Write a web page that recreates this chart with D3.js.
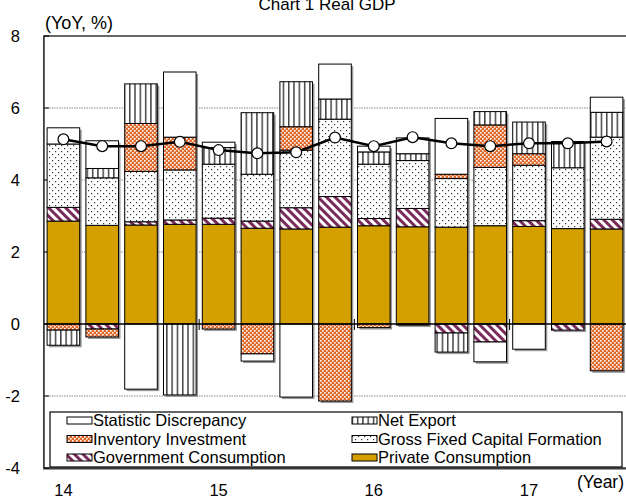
<!DOCTYPE html>
<html>
<head>
<meta charset="utf-8">
<script src="https://cdn.jsdelivr.net/npm/d3@7"></script>
<style>
  html, body { margin: 0; padding: 0; background: #fff; }
  svg { display: block; font-family: "Liberation Sans", Arial, sans-serif; }
</style>
</head>
<body>
<svg id="chart" width="626" height="499"></svg>
<script>
// ---- data ----
const categories = ["14Q1","14Q2","14Q3","14Q4","15Q1","15Q2","15Q3","15Q4","16Q1","16Q2","16Q3","16Q4","17Q1","17Q2","17Q3"];
const tickLabels = ["14","","","","15","","","","16","","","","17","",""];
const privateConsumption = [2.86, 2.74, 2.75, 2.77, 2.77, 2.66, 2.64, 2.69, 2.73, 2.70, 2.69, 2.73, 2.71, 2.65, 2.64];
const governmentConsumption = [0.38, -0.14, 0.09, 0.12, 0.17, 0.20, 0.59, 0.85, 0.20, 0.51, -0.25, -0.50, 0.16, -0.17, 0.27];
const grossFixedCapital = [1.76, 1.32, 1.40, 1.39, 1.50, 1.30, 1.60, 2.15, 1.51, 1.33, 1.35, 1.62, 1.54, 1.69, 2.28];
const inventoryInvestment = [-0.17, -0.22, 1.33, 0.91, -0.14, -0.83, 0.65, -2.14, -0.10, -0.03, 0.12, 1.18, 0.32, 0.00, -1.30];
const netExport = [-0.42, 0.26, 1.10, -1.97, 0.46, 1.71, 1.25, 0.56, 0.34, 0.19, -0.53, 0.37, 0.88, 0.73, 0.69];
const statDiscrepancy = [0.45, 0.77, -1.81, 1.81, 0.15, -0.20, -2.03, 0.97, 0.16, 0.44, 1.55, -0.55, -0.70, 0.00, 0.42];
const realGDP = [5.13, 4.94, 4.94, 5.06, 4.83, 4.74, 4.77, 5.18, 4.94, 5.19, 5.02, 4.94, 5.02, 5.02, 5.07];
const yTicks = [8, 6, 4, 2, 0, -2, -4];

const seriesKeys = ["private", "gov", "gfcf", "inv", "nx", "disc"];
const seriesNames = {
  disc: "Statistic Discrepancy", nx: "Net Export", inv: "Inventory Investment",
  gfcf: "Gross Fixed Capital Formation", gov: "Government Consumption", private: "Private Consumption"
};
const table = categories.map((c, i) => ({
  cat: c, private: privateConsumption[i], gov: governmentConsumption[i], gfcf: grossFixedCapital[i],
  inv: inventoryInvestment[i], nx: netExport[i], disc: statDiscrepancy[i], gdp: realGDP[i]
}));

// ---- layout ----
const svg = d3.select("#chart");
const pL = 44, pR = 626, pT = 36, pB = 468;
const x = d3.scaleBand().domain(categories).range([pL, pR]).paddingInner(0.16).paddingOuter(0.08);
const y = d3.scaleLinear().domain([-4, 8]).range([pB, pT]);

// patterns
const defs = svg.append("defs");
const pNx = defs.append("pattern").attr("id", "p-nx").attr("patternUnits", "userSpaceOnUse").attr("width", 5.3).attr("height", 10);
pNx.append("rect").attr("width", 5.3).attr("height", 10).attr("fill", "#fff");
pNx.append("rect").attr("x", 2).attr("width", 1.1).attr("height", 10).attr("fill", "#000");

const pInv = defs.append("pattern").attr("id", "p-inv").attr("patternUnits", "userSpaceOnUse").attr("width", 4).attr("height", 4);
pInv.append("rect").attr("width", 4).attr("height", 4).attr("fill", "#e0682a");
pInv.append("rect").attr("x", 0).attr("y", 0).attr("width", 1.6).attr("height", 1.6).attr("fill", "#fff");
pInv.append("rect").attr("x", 2).attr("y", 2).attr("width", 1.6).attr("height", 1.6).attr("fill", "#fff");

const pG = defs.append("pattern").attr("id", "p-gfcf").attr("patternUnits", "userSpaceOnUse").attr("width", 6).attr("height", 6);
pG.append("rect").attr("width", 6).attr("height", 6).attr("fill", "#fff");
pG.append("rect").attr("x", 1).attr("y", 1).attr("width", 1.2).attr("height", 1.2).attr("fill", "#333");
pG.append("rect").attr("x", 4).attr("y", 4).attr("width", 1.2).attr("height", 1.2).attr("fill", "#333");

const pGov = defs.append("pattern").attr("id", "p-gov").attr("patternUnits", "userSpaceOnUse").attr("width", 6).attr("height", 6).attr("patternTransform", "rotate(-45)");
pGov.append("rect").attr("width", 6).attr("height", 6).attr("fill", "#fff");
pGov.append("rect").attr("width", 3).attr("height", 6).attr("fill", "#7a2b5a");

const fills = { private: "#d4a000", gov: "url(#p-gov)", gfcf: "url(#p-gfcf)", inv: "url(#p-inv)", nx: "url(#p-nx)", disc: "#fff" };

// title
svg.append("text").attr("x", 327).attr("y", 10).attr("text-anchor", "middle").attr("font-size", 17).text("Chart 1 Real GDP");

// plot frame
svg.append("rect").attr("x", pL).attr("y", pT + 1).attr("width", pR - pL + 10).attr("height", pB - pT)
  .attr("fill", "none").attr("stroke", "#999").attr("stroke-width", 2);
svg.append("rect").attr("x", pL).attr("y", pT).attr("width", pR - pL + 10).attr("height", pB - pT)
  .attr("fill", "#fff").attr("stroke", "#000").attr("stroke-width", 1.2);

// gridlines
svg.append("g").selectAll("line").data(yTicks.filter(v => v !== 0 && v !== 8 && v !== -4)).join("line")
  .attr("x1", pL).attr("x2", pR).attr("y1", d => y(d)).attr("y2", d => y(d))
  .attr("stroke", "#888").attr("stroke-width", 1).attr("stroke-dasharray", "1.5,1");

// y ticks + labels
svg.append("g").selectAll("line").data(yTicks).join("line")
  .attr("x1", pL).attr("x2", pL + 5).attr("y1", d => y(d)).attr("y2", d => y(d)).attr("stroke", "#000");
svg.append("g").selectAll("text").data(yTicks).join("text")
  .attr("x", 20).attr("y", d => y(d) + 6).attr("text-anchor", "end").attr("font-size", 16.5).text(d => d);
svg.append("text").attr("x", 45).attr("y", 29).attr("font-size", 18).text("(YoY, %)");

// stacked bars
const stack = d3.stack().keys(seriesKeys).offset(d3.stackOffsetDiverging);
const stacked = stack(table);

// shadows
const ext = table.map((d, i) => {
  let lo = 0, hi = 0;
  stacked.forEach(s => { lo = Math.min(lo, s[i][0], s[i][1]); hi = Math.max(hi, s[i][0], s[i][1]); });
  return { cat: d.cat, lo, hi };
});
svg.append("g").selectAll("rect").data(ext).join("rect")
  .attr("x", d => x(d.cat) + 2).attr("width", x.bandwidth())
  .attr("y", d => y(d.hi) + 2).attr("height", d => y(d.lo) - y(d.hi))
  .attr("fill", "#9a9a9a");

const barG = svg.append("g");
stacked.forEach(s => {
  barG.append("g").selectAll("rect").data(s.filter(d => Math.abs(d[1] - d[0]) > 1e-9)).join("rect")
    .attr("x", d => x(d.data.cat)).attr("width", x.bandwidth())
    .attr("y", d => y(Math.max(d[0], d[1]))).attr("height", d => Math.abs(y(d[0]) - y(d[1])))
    .attr("fill", fills[s.key]).attr("stroke", "#000").attr("stroke-width", 1);
});

// zero line
svg.append("line").attr("x1", pL).attr("x2", pR).attr("y1", y(0)).attr("y2", y(0)).attr("stroke", "#000").attr("stroke-width", 1.5);
// year boundary ticks
const boundaries = categories.filter((c, i) => i > 0 && i % 4 === 0);
svg.append("g").selectAll("line").data(boundaries).join("line")
  .attr("x1", d => x(d) - x.step() * x.paddingInner() / 2).attr("x2", d => x(d) - x.step() * x.paddingInner() / 2)
  .attr("y1", y(0) - 5).attr("y2", y(0) + 6).attr("stroke", "#000").attr("stroke-width", 1);

// GDP line
const cx = d => x(d.cat) + x.bandwidth() / 2;
svg.append("path").datum(table)
  .attr("d", d3.line().x(cx).y(d => y(d.gdp)))
  .attr("fill", "none").attr("stroke", "#000").attr("stroke-width", 2.5);
svg.append("g").selectAll("circle").data(table).join("circle")
  .attr("cx", cx).attr("cy", d => y(d.gdp)).attr("r", 5.4)
  .attr("fill", "#fff").attr("stroke", "#000").attr("stroke-width", 1.2);

// legend
const lg = svg.append("g");
lg.append("rect").attr("x", 50).attr("y", 412).attr("width", 572).attr("height", 55).attr("fill", "#fff").attr("stroke", "#000").attr("stroke-width", 1.2);
const legendItems = [
  { key: "disc", col: 0, row: 0 }, { key: "nx", col: 1, row: 0 },
  { key: "inv", col: 0, row: 1 }, { key: "gfcf", col: 1, row: 1 },
  { key: "gov", col: 0, row: 2 }, { key: "private", col: 1, row: 2 }
];
const colX = [67, 352];
legendItems.forEach(it => {
  const bx = colX[it.col], by = 426 + it.row * 18.5;
  lg.append("rect").attr("x", bx).attr("y", by - 9).attr("width", 25).attr("height", 7)
    .attr("fill", fills[it.key]).attr("stroke", "#000").attr("stroke-width", 1);
  lg.append("text").attr("x", bx + 26).attr("y", by).attr("font-size", 16.5).text(seriesNames[it.key]);
});

// x labels
svg.append("g").selectAll("text").data(categories).join("text")
  .attr("x", d => x(d) + x.bandwidth() / 2).attr("y", 496).attr("text-anchor", "middle").attr("font-size", 16.5)
  .text((d, i) => tickLabels[i]);
svg.append("text").attr("x", 577).attr("y", 488).attr("font-size", 17.5).text("(Year)");
</script>
</body>
</html>
